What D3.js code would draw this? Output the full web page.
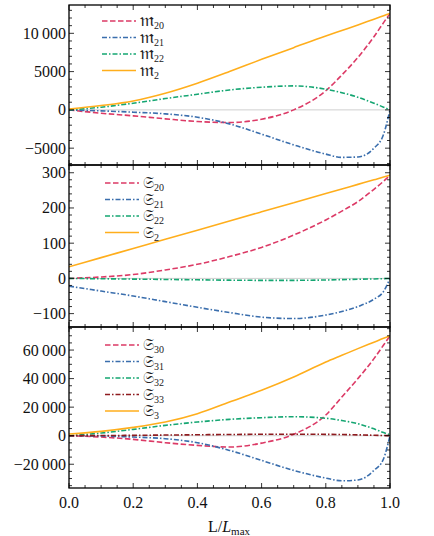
<!DOCTYPE html>
<html><head><meta charset="utf-8">
<script src="https://cdn.jsdelivr.net/npm/d3@7"></script>
<style>
html,body{margin:0;padding:0;background:#fff;}
svg{display:block;}
text{font-family:"Liberation Serif","Times New Roman",serif;}
</style></head>
<body>
<svg id="c" width="434" height="536"></svg>
<script>
// ---------- data ----------
const xs = [0, 0.1, 0.2, 0.3, 0.4, 0.5, 0.6, 0.7, 0.8, 0.85, 0.9, 0.95, 0.98, 1];

// panel 1 : m
const m20 = [0, -435, -780, -1170, -1520, -1650, -1220, 0, 2500, 4560, 6850, 9560, 11400, 12600];
const m21 = [0, -130, -300, -520, -960, -1830, -3170, -4570, -5780, -6200, -6150, -5000, -3200, 0];
const m22 = [0, 350, 870, 1480, 2040, 2600, 2960, 3130, 2700, 2250, 1650, 870, 350, 0];
const m2  = [100, 565, 1170, 2170, 3480, 5000, 6600, 8130, 9650, 10370, 11090, 11850, 12300, 12600];

// panel 2 : S2
const s20 = [0, 4, 11, 24, 40, 62, 88, 123, 166, 191, 218, 253, 276, 293];
const s21 = [-22, -36, -50, -66, -82, -97, -110, -114, -104, -94, -80, -59, -37, 0];
const s22 = [0, -1, -2, -3, -4, -5, -5.5, -5.5, -4.5, -3.5, -2.5, -1.5, -0.7, 0];
const s2  = [33, 59, 85, 111, 137, 163, 189, 215, 241, 254, 267, 280, 288, 293];

// panel 3 : S3
const s30 = [0, -930, -2570, -4900, -6780, -7940, -5200, 1000, 14500, 27100, 40000, 54000, 63500, 69900];
const s31 = [0, -230, -930, -2100, -4900, -10300, -17300, -24300, -29700, -31600, -31000, -24300, -16100, 0];
const s32 = [0, 1870, 4440, 7240, 9580, 11450, 12600, 13300, 12200, 10600, 8400, 4800, 2200, 600];
const s33 = [0, 100, 250, 450, 650, 850, 1000, 1050, 950, 800, 600, 300, 120, 0];
const s3  = [1200, 3040, 5840, 9580, 15400, 23600, 31800, 41100, 51600, 56300, 61000, 65500, 68200, 69900];

// tick values / labels
const xTicks = [0, 0.2, 0.4, 0.6, 0.8, 1.0];
const xTickLabels = ["0.0", "0.2", "0.4", "0.6", "0.8", "1.0"];
const y1Ticks = [-5000, 0, 5000, 10000];
const y1TickLabels = ["\u22125000", "0", "5000", "10\u2009000"];
const y2Ticks = [-100, 0, 100, 200, 300];
const y2TickLabels = ["\u2212100", "0", "100", "200", "300"];
const y3Ticks = [-20000, 0, 20000, 40000, 60000];
const y3TickLabels = ["\u221220\u2009000", "0", "20\u2009000", "40\u2009000", "60\u2009000"];

// legend names (fraktur glyph + subscript)
const m = "\u{1D52A}", S = "\u{1D516}";
const names1 = [[m, "20"], [m, "21"], [m, "22"], [m, "2"]];
const names2 = [[S, "20"], [S, "21"], [S, "22"], [S, "2"]];
const names3 = [[S, "30"], [S, "31"], [S, "32"], [S, "33"], [S, "3"]];

// ---------- styles ----------
const RED = "#DC3A66", BLUE = "#3A6EAD", GREEN = "#15A672", ORANGE = "#FFAE1C", DRED = "#8E1B1F";
const DASH = "5.5,2.5", DOTDASH = "5,2,1.5,2";
const SERIF = "'Liberation Serif','Times New Roman',serif";
const FRAK = "'DejaVu Serif','DejaVu Sans','Liberation Serif',serif";

const svg = d3.select("#c");
const L = 69, R = 390;
const x = d3.scaleLinear().domain([0, 1]).range([L, R]);

const panels = [
  {top: 5, bottom: 165, domain: [-7200, 13700], minor: 1000, ticks: y1Ticks, labels: y1TickLabels,
   series: [[m20, RED, DASH], [m21, BLUE, DOTDASH], [m22, GREEN, DOTDASH], [m2, ORANGE, null]],
   names: names1, legendY: 21, legendX: 102, glyphSize: 19},
  {top: 165, bottom: 327, domain: [-138, 322], minor: 20, ticks: y2Ticks, labels: y2TickLabels,
   series: [[s20, RED, DASH], [s21, BLUE, DOTDASH], [s22, GREEN, DOTDASH], [s2, ORANGE, null]],
   names: names2, legendY: 183, legendX: 105, glyphSize: 15.5},
  {top: 327, bottom: 488, domain: [-36640, 76150], minor: 5000, ticks: y3Ticks, labels: y3TickLabels,
   series: [[s30, RED, DASH], [s31, BLUE, DOTDASH], [s32, GREEN, DOTDASH], [s33, DRED, DOTDASH], [s3, ORANGE, null]],
   names: names3, legendY: 345, legendX: 105, glyphSize: 15.5}
];

const xMinor = d3.range(0, 1.0001, 0.05);

panels.forEach(p => {
  const y = d3.scaleLinear().domain(p.domain).range([p.bottom, p.top]);
  const g = svg.append("g");
  const clipId = "clip" + p.top;
  svg.append("clipPath").attr("id", clipId).append("rect")
    .attr("x", L).attr("y", p.top).attr("width", R - L).attr("height", p.bottom - p.top);

  // zero line
  g.append("line").attr("x1", L).attr("x2", R).attr("y1", y(0)).attr("y2", y(0))
    .attr("stroke", "#cfcfcf").attr("stroke-width", 1);

  // series
  const line = d3.line().x((d, i) => x(xs[i])).y(d => y(d)).curve(d3.curveMonotoneX);
  const sg = g.append("g").attr("clip-path", `url(#${clipId})`);
  p.series.forEach(([vals, col, dash]) => {
    sg.append("path").attr("d", line(vals)).attr("fill", "none").attr("stroke", col)
      .attr("stroke-width", 1.6).attr("stroke-dasharray", dash);
  });

  // legend
  p.names.forEach((nm, i) => {
    const [vals, col, dash] = p.series[i];
    const ly = p.legendY + i * 16.5;
    g.append("line").attr("x1", p.legendX).attr("x2", p.legendX + 34).attr("y1", ly).attr("y2", ly)
      .attr("stroke", col).attr("stroke-width", 1.6).attr("stroke-dasharray", dash);
    const t = g.append("text").attr("x", p.legendX + 38).attr("y", ly + 5).attr("font-size", p.glyphSize)
      .attr("fill", "#222").style("font-family", FRAK);
    t.append("tspan").text(nm[0]);
    t.append("tspan").attr("font-size", 10).attr("dy", 3).style("font-family", SERIF).text(nm[1]);
  });

  // frame
  g.append("rect").attr("x", L).attr("y", p.top).attr("width", R - L).attr("height", p.bottom - p.top)
    .attr("fill", "none").attr("stroke", "#000").attr("stroke-width", 1.3);

  // x ticks top & bottom (inward)
  xMinor.forEach(v => {
    const major = Math.abs(Math.round(v * 5) - v * 5) < 1e-6;
    const len = major ? 5 : 3;
    const xx = x(v);
    g.append("line").attr("x1", xx).attr("x2", xx).attr("y1", p.bottom).attr("y2", p.bottom - len)
      .attr("stroke", "#000").attr("stroke-width", 0.8);
    g.append("line").attr("x1", xx).attr("x2", xx).attr("y1", p.top).attr("y2", p.top + len)
      .attr("stroke", "#000").attr("stroke-width", 0.8);
  });

  // y ticks left & right
  const yMin = Math.ceil(p.domain[0] / p.minor) * p.minor;
  const majorStep = p.ticks[1] - p.ticks[0];
  d3.range(yMin, p.domain[1], p.minor).forEach(v => {
    const major = Math.abs(v / majorStep - Math.round(v / majorStep)) < 1e-6;
    const len = major ? 5 : 3;
    const yy = y(v);
    g.append("line").attr("x1", L).attr("x2", L + len).attr("y1", yy).attr("y2", yy)
      .attr("stroke", "#000").attr("stroke-width", 0.8);
    g.append("line").attr("x1", R).attr("x2", R - len).attr("y1", yy).attr("y2", yy)
      .attr("stroke", "#000").attr("stroke-width", 0.8);
  });

  // y tick labels
  p.ticks.forEach((v, i) => {
    g.append("text").attr("x", L - 3).attr("y", y(v) + 5.5).attr("text-anchor", "end")
      .attr("font-family", SERIF).attr("font-size", 16).attr("fill", "#111").text(p.labels[i]);
  });
});

// x tick labels
xTicks.forEach((v, i) => {
  svg.append("text").attr("x", x(v)).attr("y", 508).attr("text-anchor", "middle")
    .attr("font-family", SERIF).attr("font-size", 16).attr("fill", "#111").text(xTickLabels[i]);
});

// x axis label
const xl = svg.append("text").attr("x", 229).attr("y", 532).attr("text-anchor", "middle")
  .attr("font-family", SERIF).attr("font-size", 16).attr("fill", "#111");
xl.append("tspan").text("L/");
xl.append("tspan").attr("font-style", "italic").text("L");
xl.append("tspan").attr("font-size", 11).attr("dy", 3).text("max");
</script>
</body></html>
